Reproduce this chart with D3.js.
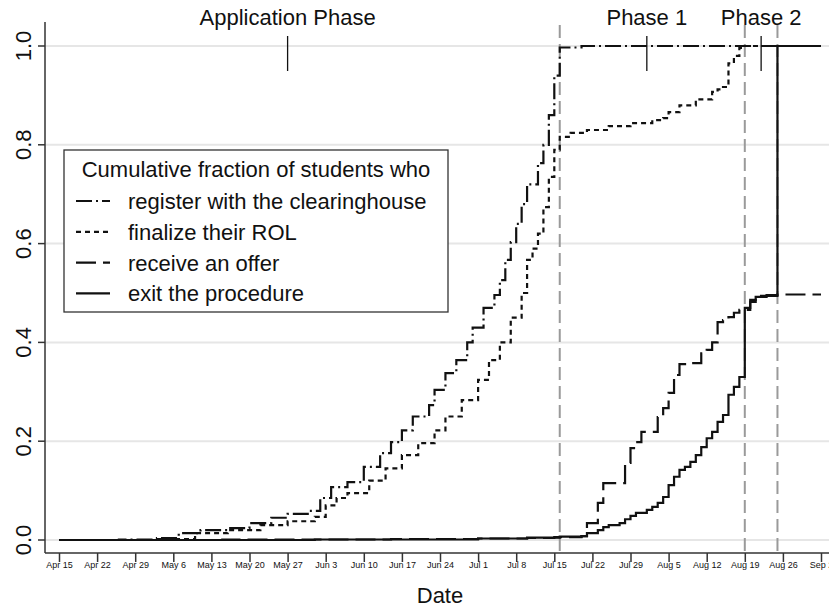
<!DOCTYPE html>
<html>
<head>
<meta charset="utf-8">
<script src="https://cdn.jsdelivr.net/npm/d3@7"></script>
<style>
  body { margin: 0; background: #fff; }
  svg { display: block; font-family: "Liberation Sans", Arial, sans-serif; }
</style>
</head>
<body>
<div id="plot"></div>
<script>
// data (year is arbitrary, only month/day shown)
const year = 2019;

const registerPts = [["04-15",0],["04-26",0.001],["05-03",0.004],["05-07",0.014],["05-11",0.020],["05-16",0.024],
  ["05-20",0.034],["05-24",0.045],["05-27",0.053],["05-31",0.059],["06-02",0.085],["06-04",0.107],["06-07",0.117],
  ["06-10",0.148],["06-13",0.176],["06-15",0.198],["06-17",0.222],["06-19",0.250],["06-22",0.273],["06-23",0.304],
  ["06-25",0.338],["06-27",0.364],["06-29",0.400],["06-30",0.430],["07-02",0.470],["07-04",0.496],["07-05",0.526],
  ["07-06",0.567],["07-07",0.603],["07-08",0.640],["07-09",0.680],["07-10",0.720],["07-12",0.763],["07-13",0.800],
  ["07-14",0.860],["07-15",0.940],["07-16",0.997],["07-20",1.0],["09-02",1.0]];

const finalizePts = [["04-15",0],["05-03",0.002],["05-10",0.014],["05-16",0.020],["05-22",0.030],["05-27",0.038],
  ["06-01",0.047],["06-03",0.070],["06-05",0.085],["06-07",0.095],["06-11",0.120],["06-14",0.145],["06-17",0.172],
  ["06-20",0.196],["06-23",0.222],["06-25",0.250],["06-28",0.283],["07-01",0.324],["07-03",0.364],["07-05",0.400],
  ["07-07",0.450],["07-09",0.500],["07-10",0.567],["07-11",0.590],["07-12",0.620],["07-13",0.674],["07-14",0.735],
  ["07-15",0.790],["07-16",0.816],["07-18",0.824],["07-21",0.830],["07-25",0.838],["07-29",0.844],["08-02",0.850],
  ["08-04",0.854],["08-05",0.866],["08-07",0.880],["08-10",0.892],["08-13",0.907],["08-14",0.912],["08-15",0.917],
  ["08-16",0.965],["08-17",0.980],["08-18",0.996],["08-19",1.0],["09-02",1.0]];

const offerPts = [["04-15",0],["05-15",0.001],["06-15",0.002],["07-01",0.003],["07-10",0.004],["07-15",0.006],
  ["07-20",0.008],["07-21",0.034],["07-23",0.075],["07-24",0.115],["07-28",0.156],["07-29",0.186],["07-30",0.198],
  ["07-31",0.219],["08-03",0.249],["08-04",0.267],["08-05",0.298],["08-06",0.334],["08-07",0.356],["08-09",0.358],
  ["08-11",0.378],["08-12",0.385],["08-13",0.400],["08-14",0.441],["08-15",0.445],["08-16",0.451],["08-17",0.460],
  ["08-18",0.466],["08-20",0.486],["08-21",0.494],["08-25",0.497],["09-02",0.497]];

const exitPts = [["04-15",0],["06-01",0.001],["07-01",0.003],["07-10",0.005],["07-16",0.007],["07-20",0.008],
  ["07-21",0.014],["07-23",0.020],["07-24",0.026],["07-25",0.030],["07-27",0.034],["07-28",0.042],["07-29",0.049],
  ["07-30",0.055],["08-01",0.061],["08-02",0.067],["08-03",0.075],["08-04",0.087],["08-05",0.111],["08-06",0.128],
  ["08-07",0.142],["08-08",0.148],["08-09",0.158],["08-10",0.172],["08-11",0.188],["08-12",0.206],["08-13",0.219],
  ["08-14",0.239],["08-15",0.253],["08-16",0.294],["08-17",0.310],["08-18",0.330],["08-19",0.470],["08-20",0.482],
  ["08-21",0.492],["08-23",0.496],["08-25",1.0],["09-02",1.0]];

const seriesNames = ["register with the clearinghouse", "finalize their ROL", "receive an offer", "exit the procedure"];
const seriesDash  = ["16,4,2,4", "5,4", "20,7", null];
const legendTitle = "Cumulative fraction of students who";

const xTickDates = ["04-15","04-22","04-29","05-06","05-13","05-20","05-27","06-03","06-10","06-17","06-24",
  "07-01","07-08","07-15","07-22","07-29","08-05","08-12","08-19","08-26","09-02"];
const yTicks = [0, 0.2, 0.4, 0.6, 0.8, 1.0];

const phaseLabels = ["Application Phase", "Phase 1", "Phase 2"];
const phaseDates  = ["05-27", "08-01", "08-22"];
const cutoffDates = ["07-16", "08-19", "08-25"];

// ---- setup
const W = 829, H = 608;
const parse = d3.timeParse("%Y-%m-%d");
const toDate = s => parse(year + "-" + s);

var x = d3.scaleTime().domain([toDate("04-15"), toDate("09-02")]).range([59, 821]);
var y = d3.scaleLinear().domain([0, 1]).range([540, 46]);

const plotLeft = 45, plotRight = W, axisY = 553, plotTop = 22;

var svg = d3.select("#plot").append("svg").attr("width", W).attr("height", H);

// gridlines
svg.append("g").selectAll("line").data(yTicks).join("line")
  .attr("x1", plotLeft).attr("x2", plotRight)
  .attr("y1", d => y(d)).attr("y2", d => y(d))
  .attr("stroke", "#e6e6e6").attr("stroke-width", 2);

// cutoff dashed lines
svg.append("g").selectAll("line").data(cutoffDates).join("line")
  .attr("x1", d => x(toDate(d))).attr("x2", d => x(toDate(d)))
  .attr("y1", 25).attr("y2", axisY)
  .attr("stroke", "#9a9a9a").attr("stroke-width", 2).attr("stroke-dasharray", "13,6");

// series
var line = d3.line().curve(d3.curveStepAfter)
  .x(d => x(toDate(d[0]))).y(d => y(d[1]));

const allSeries = [registerPts, finalizePts, offerPts, exitPts];
allSeries.forEach(function (pts, i) {
  svg.append("path").datum(pts)
    .attr("d", line)
    .attr("fill", "none")
    .attr("stroke", "#111")
    .attr("stroke-width", 2.2)
    .attr("stroke-dasharray", seriesDash[i]);
});

// axes
var xAxis = svg.append("g").attr("transform", "translate(0," + axisY + ")")
  .call(d3.axisBottom(x).tickValues(xTickDates.map(toDate)).tickFormat(d3.timeFormat("%b %-d")).tickSize(9).tickSizeOuter(0));
xAxis.select(".domain").remove();
xAxis.selectAll("line").attr("stroke", "#333").attr("stroke-width", 1.5);
xAxis.selectAll("text").attr("font-size", 9).attr("fill", "#111").attr("dy", "0.3em").attr("font-family", "Liberation Sans, Arial, sans-serif");

svg.append("line").attr("x1", plotLeft).attr("x2", plotRight).attr("y1", axisY).attr("y2", axisY)
  .attr("stroke", "#333").attr("stroke-width", 1.5);
svg.append("line").attr("x1", plotLeft).attr("x2", plotLeft).attr("y1", plotTop).attr("y2", axisY)
  .attr("stroke", "#333").attr("stroke-width", 1.5);

var yAx = svg.append("g");
yAx.selectAll("line").data(yTicks).join("line")
  .attr("x1", 38).attr("x2", plotLeft).attr("y1", d => y(d)).attr("y2", d => y(d))
  .attr("stroke", "#333").attr("stroke-width", 1.5);
yAx.selectAll("text").data(yTicks).join("text")
  .attr("transform", d => "translate(31," + y(d) + ") rotate(-90)")
  .attr("text-anchor", "middle").attr("font-size", 22).attr("fill", "#111")
  .text(d => d3.format(".1f")(d));

svg.append("text").attr("x", 440).attr("y", 603).attr("text-anchor", "middle")
  .attr("font-size", 22).attr("fill", "#111").text("Date");

// phase markers
var ph = svg.append("g");
ph.selectAll("line").data(phaseDates).join("line")
  .attr("x1", d => x(toDate(d))).attr("x2", d => x(toDate(d)))
  .attr("y1", 36).attr("y2", 71).attr("stroke", "#111").attr("stroke-width", 1.3);
ph.selectAll("text").data(phaseLabels).join("text")
  .attr("x", (d, i) => x(toDate(phaseDates[i]))).attr("y", 25)
  .attr("text-anchor", "middle").attr("font-size", 22).attr("fill", "#111")
  .text(d => d);

// legend
var lg = svg.append("g");
lg.append("rect").attr("x", 64).attr("y", 150).attr("width", 384).attr("height", 162)
  .attr("fill", "#fff").attr("stroke", "#333").attr("stroke-width", 1.3);
lg.append("text").attr("x", 256).attr("y", 177).attr("text-anchor", "middle")
  .attr("font-size", 22).attr("fill", "#111").text(legendTitle);
seriesNames.forEach(function (name, i) {
  var cy = 201 + i * 30.8;
  lg.append("line").attr("x1", 76).attr("x2", 110).attr("y1", cy).attr("y2", cy)
    .attr("stroke", "#111").attr("stroke-width", 2.2).attr("stroke-dasharray", seriesDash[i]);
  lg.append("text").attr("x", 128).attr("y", cy + 8)
    .attr("font-size", 22).attr("fill", "#111").text(name);
});
</script>
</body>
</html>
